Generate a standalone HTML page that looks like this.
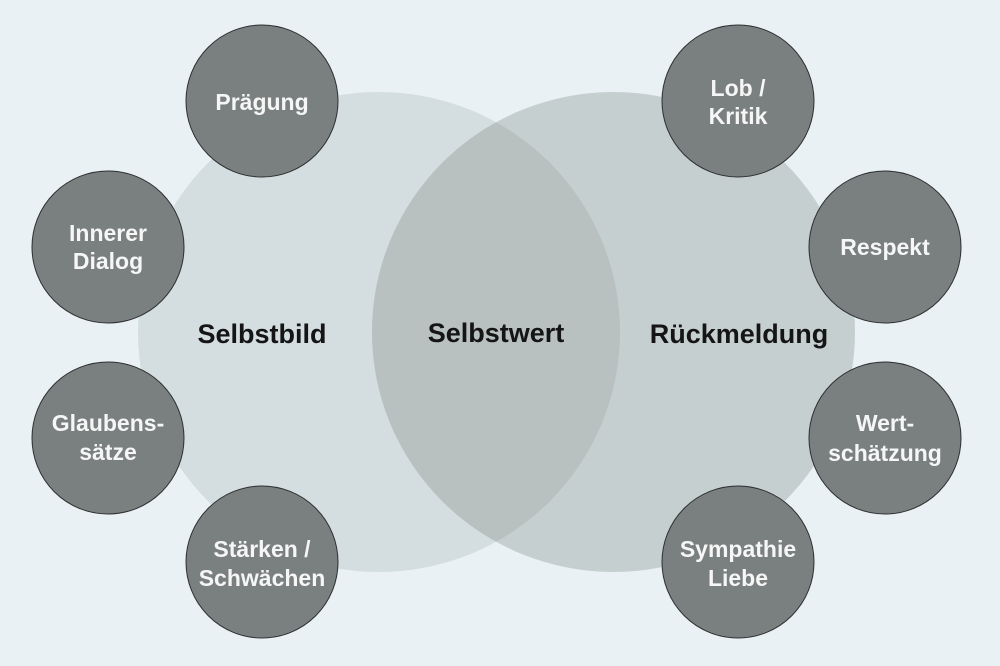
<!DOCTYPE html>
<html>
<head>
<meta charset="utf-8">
<style>
html,body{margin:0;padding:0;background:#e9f1f5;}
svg{display:block;}
text{font-family:"Liberation Sans",sans-serif;font-weight:bold;}
.w{fill:#f6f6f6;font-size:23px;}
.t{fill:#151515;font-size:27px;}
</style>
</head>
<body>
<svg width="1000" height="666" viewBox="0 0 1000 666" xmlns="http://www.w3.org/2000/svg">
<defs>
<clipPath id="cl"><ellipse cx="379" cy="332" rx="241" ry="240"/></clipPath>
</defs>
<rect width="1000" height="666" fill="#e9f1f5"/>
<ellipse cx="379" cy="332" rx="241" ry="240" fill="#d4dde0"/>
<ellipse cx="613.5" cy="332" rx="241.5" ry="240" fill="#c6cfcf"/>
<ellipse cx="613.5" cy="332" rx="241.5" ry="240" fill="#b8c1c0" clip-path="url(#cl)"/>

<g fill="#7a7f7f" stroke="#2e3030" stroke-width="1">
<circle cx="262" cy="101" r="76"/>
<circle cx="108" cy="247" r="76"/>
<circle cx="108" cy="438" r="76"/>
<circle cx="262" cy="562" r="76"/>
<circle cx="738" cy="101" r="76"/>
<circle cx="885" cy="247" r="76"/>
<circle cx="885" cy="438" r="76"/>
<circle cx="738" cy="562" r="76"/>
</g>

<g text-anchor="middle">
<text class="t" x="262" y="343">Selbstbild</text>
<text class="t" x="496" y="342">Selbstwert</text>
<text class="t" x="739" y="343">Rückmeldung</text>

<text class="w" x="262" y="110">Prägung</text>
<text class="w" x="108" y="241">Innerer</text>
<text class="w" x="108" y="269">Dialog</text>
<text class="w" x="108" y="431">Glaubens-</text>
<text class="w" x="108" y="460">sätze</text>
<text class="w" x="262" y="557">Stärken /</text>
<text class="w" x="262" y="586">Schwächen</text>

<text class="w" x="738" y="96">Lob /</text>
<text class="w" x="738" y="124">Kritik</text>
<text class="w" x="885" y="255">Respekt</text>
<text class="w" x="885" y="431">Wert-</text>
<text class="w" x="885" y="461">schätzung</text>
<text class="w" x="738" y="557">Sympathie</text>
<text class="w" x="738" y="586">Liebe</text>
</g>
</svg>
</body>
</html>
